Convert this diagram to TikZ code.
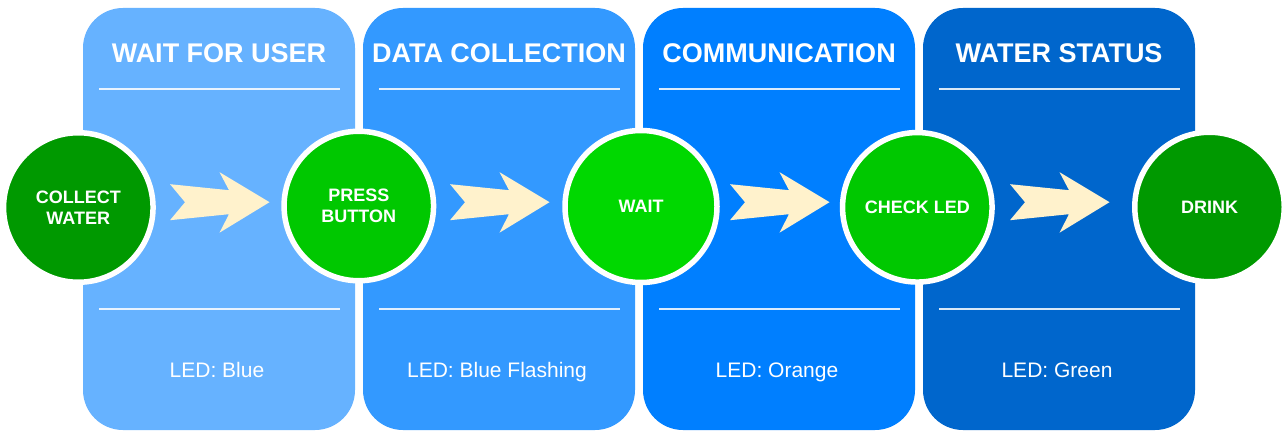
\documentclass[tikz,border=0pt]{standalone}
\usepackage{fontspec}
\setmainfont{Liberation Sans}
\usetikzlibrary{calc}

% panel and step colours
\definecolor{paneA}{HTML}{66B2FF}
\definecolor{paneB}{HTML}{3399FF}
\definecolor{paneC}{HTML}{007FFF}
\definecolor{paneD}{HTML}{0066CC}
\definecolor{leafdark}{HTML}{009900}
\definecolor{leafmid}{HTML}{00C800}
\definecolor{leafbright}{HTML}{00D800}
\definecolor{arrowfill}{HTML}{FFF2CC}

\begin{document}
\begin{tikzpicture}[x=1pt,y=-1pt,
  panel/.style={rounded corners=40, minimum width=272, minimum height=422,
                inner sep=0, outer sep=0},
  stepnode/.style={circle, draw=white, line width=5.5, minimum size=149.5,
                   inner sep=0, text=white, align=center,
                   font=\fontsize{18}{21.5}\selectfont\bfseries},
  paneltitle/.style={text=white, anchor=base, inner sep=0,
                     font=\fontsize{27}{32}\selectfont\bfseries},
  ledtext/.style={text=white, anchor=base, inner sep=0,
                  font=\fontsize{21}{25}\selectfont},
  rule/.style={draw=white, line width=2, opacity=0.85},
  flowarrow/.pic={
    \fill[arrowfill] (-49.75,-18) -- (-34.75,0) -- (-49.75,18) -- (9.25,12)
      -- (-0.25,30.5) -- (49.75,0) -- (-0.25,-30) -- (9.25,-12) -- cycle;
  }
]
\useasboundingbox (0,0) rectangle (1287,438);
\fill[white] (0,0) rectangle (1287,438);

% four phase panels with title, rules and LED state
\foreach \i/\cx/\col/\ttl/\led in {
    1/219/paneA/WAIT FOR USER/LED: Blue,
    2/499/paneB/DATA COLLECTION/LED: Blue Flashing,
    3/779/paneC/COMMUNICATION/LED: Orange,
    4/1059/paneD/WATER STATUS/LED: Green}{
  \node[panel, fill=\col] (p\i) at (\cx,219) {};
  \draw[rule] ($(p\i.north west)+(16,81)$) -- ($(p\i.north east)+(-15,81)$);
  \draw[rule] ($(p\i.north west)+(16,301)$) -- ($(p\i.north east)+(-15,301)$);
  \node[paneltitle] (t\i) at ($(p\i.north)+(0,55)$) {\ttl};
  \node[ledtext] (l\i) at ($(p\i.north)+(-2,369)$) {\led};
  \pic at ($(p\i.center)+(0.75,-16.8)$) {flowarrow};
}

% process steps
\node[stepnode, fill=leafdark] (collect) at (78.3,207.5) {COLLECT\\WATER};
\node[stepnode, fill=leafmid] (press) at (358.8,206) {PRESS\\BUTTON};
\node[stepnode, fill=leafbright, minimum size=152] (wait) at (641,206.5) {WAIT};
\node[stepnode, fill=leafmid] (check) at (917.3,207.3) {CHECK LED};
\node[stepnode, fill=leafdark] (drink) at (1209.5,207) {DRINK};
\end{tikzpicture}
\end{document}
